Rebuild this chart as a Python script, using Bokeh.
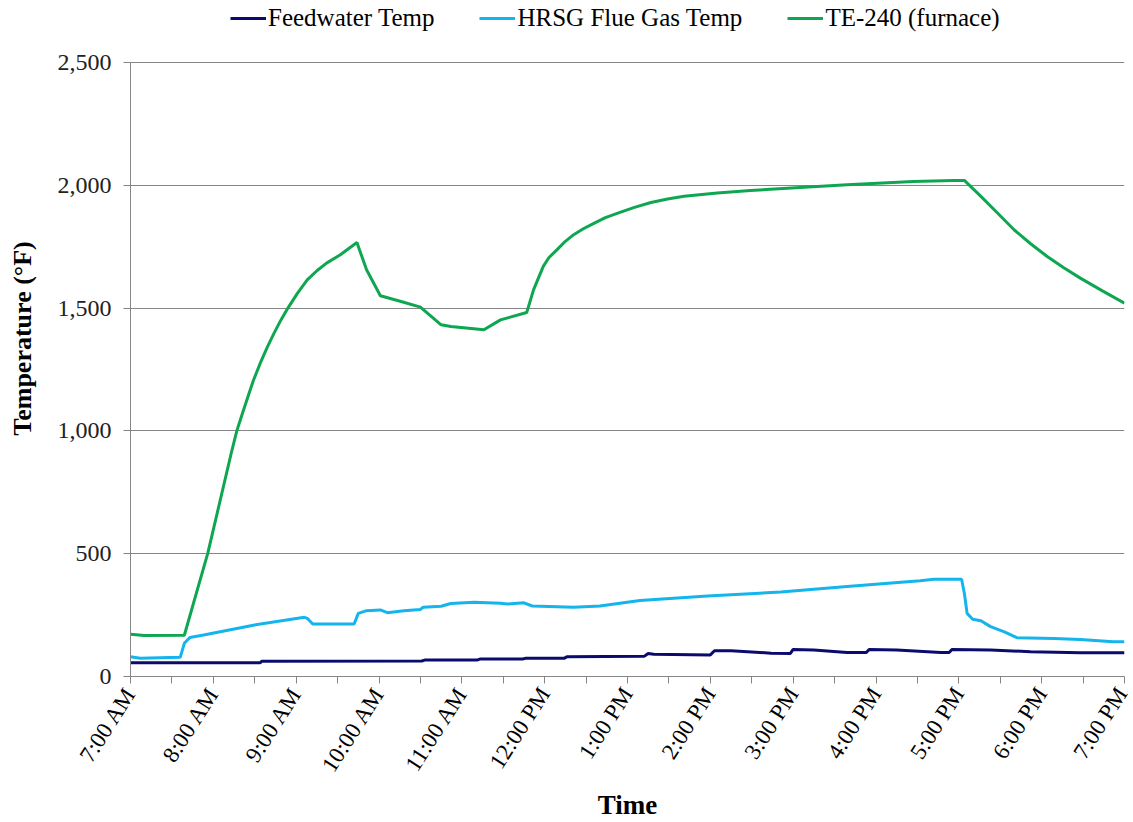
from bokeh.plotting import figure
from bokeh.models import Range1d, FixedTicker, NumeralTickFormatter, Legend, LegendItem
from bokeh.embed import file_html
from bokeh.resources import INLINE

# ---- data ----
tick_labels = ["7:00 AM", "8:00 AM", "9:00 AM", "10:00 AM", "11:00 AM", "12:00 PM",
               "1:00 PM", "2:00 PM", "3:00 PM", "4:00 PM", "5:00 PM", "6:00 PM", "7:00 PM"]
y_ticks = [0, 500, 1000, 1500, 2000, 2500]

feed_time = ["07:00", "08:34", "08:35", "10:31", "10:33", "11:11", "11:13", "11:44", "11:46",
             "12:14", "12:16", "13:12", "13:15", "13:19", "14:00", "14:03", "14:15", "14:44",
             "14:58", "15:00", "15:15", "15:39", "15:53", "15:55", "16:15", "16:47", "16:53",
             "16:55", "17:23", "17:52", "18:28", "19:00"]
feed_temp = [56, 56, 62, 63, 67, 67, 71, 71, 74,
             74, 80, 82, 94, 91, 88, 105, 105, 95,
             94, 110, 108, 98, 98, 110, 108, 98, 98,
             110, 108, 101, 97, 97]

hrsg_time = ["07:00", "07:07", "07:36", "07:39", "07:43", "07:53", "08:29", "09:06", "09:08",
             "09:12", "09:42", "09:45", "09:51", "10:01", "10:06", "10:18", "10:30", "10:32",
             "10:45", "10:52", "11:09", "11:28", "11:33", "11:45", "11:51", "12:21", "12:40",
             "13:09", "13:58", "14:51", "15:39", "16:32", "16:42", "17:02", "17:04", "17:06",
             "17:10", "17:16", "17:23", "17:33", "17:42", "18:09", "18:28", "18:52", "19:00"]
hrsg_temp = [80, 74, 78, 135, 159, 169, 209, 241, 237,
             214, 214, 257, 268, 271, 260, 268, 273, 282,
             286, 297, 302, 298, 295, 300, 287, 282, 287,
             309, 328, 344, 366, 390, 396, 396, 339, 257,
             233, 227, 203, 182, 158, 155, 151, 141, 141]

te240_time = ["07:00", "07:10", "07:39", "07:56", "08:13", "08:17", "08:21", "08:25", "08:29",
              "08:34", "08:39", "08:44", "08:49", "08:54", "09:01", "09:08", "09:15", "09:22",
              "09:32", "09:44", "09:51", "10:01", "10:16", "10:30", "10:45", "10:52", "11:16",
              "11:28", "11:47", "11:52", "11:59", "12:03", "12:09", "12:15", "12:21", "12:28",
              "12:36", "12:44", "12:53", "13:05", "13:17", "13:29", "13:41", "14:05", "14:29",
              "15:05", "15:39", "16:27", "16:56", "17:04", "17:16", "17:28", "17:40", "17:52",
              "18:04", "18:16", "18:28", "18:44", "19:00"]
te240_temp = [172, 167, 168, 502, 910, 1000, 1070, 1138, 1205,
              1276, 1340, 1398, 1452, 1500, 1561, 1615, 1652, 1683,
              1717, 1767, 1656, 1550, 1527, 1504, 1432, 1425, 1412,
              1452, 1482, 1575, 1670, 1705, 1738, 1772, 1799, 1823,
              1846, 1868, 1887, 1910, 1930, 1944, 1955, 1969, 1979,
              1991, 2002, 2015, 2020, 2020, 1955, 1887, 1819, 1762,
              1710, 1664, 1622, 1570, 1520]


def to_hours(ts):
    out = []
    for t in ts:
        h, m = t.split(":")
        out.append(int(h) + int(m) / 60.0)
    return out


FONT = "Liberation Serif"

# layout: the axis spans 614 px for 0..2500; the frame is extended upward to hold the legend
AXIS_PX = 614
FRAME_H = 676
y_top = y_ticks[-1] * FRAME_H / AXIS_PX

p = figure(output_backend="svg", toolbar_location=None,
           x_range=Range1d(7, 19), y_range=Range1d(0, y_top),
           frame_width=994, frame_height=FRAME_H,
           min_border_left=130, min_border_top=0, min_border_right=8, min_border_bottom=0)
p.outline_line_color = None
p.background_fill_color = "white"
p.border_fill_color = "white"

r1 = p.line(to_hours(feed_time), feed_temp, line_color="#0b0b6e", line_width=3)
r2 = p.line(to_hours(hrsg_time), hrsg_temp, line_color="#14b4ec", line_width=3)
r3 = p.line(to_hours(te240_time), te240_temp, line_color="#0fa651", line_width=3)

# x axis
hours = list(range(7, 20))
p.xaxis.ticker = FixedTicker(ticks=hours, minor_ticks=[h + 0.5 for h in range(7, 19)])
p.xaxis.major_label_overrides = {h: lab for h, lab in zip(hours, tick_labels)}
p.xaxis.major_label_orientation = 1.0
p.xaxis.major_label_text_font = FONT
p.xaxis.major_label_text_font_size = "23px"
p.xaxis.major_label_text_color = "black"
p.xaxis.major_tick_in = 0
p.xaxis.major_tick_out = 7
p.xaxis.minor_tick_in = 0
p.xaxis.minor_tick_out = 7
p.xaxis.axis_line_color = "#868686"
p.xaxis.major_tick_line_color = "#868686"
p.xaxis.minor_tick_line_color = "#868686"
p.xaxis.axis_label = "Time"
p.xaxis.axis_label_text_font = FONT
p.xaxis.axis_label_text_font_style = "bold"
p.xaxis.axis_label_text_font_size = "27px"
p.xaxis.axis_label_text_color = "black"
p.xaxis.axis_label_standoff = 4
p.xaxis.major_label_standoff = 6

# y axis
p.yaxis.ticker = FixedTicker(ticks=y_ticks)
p.yaxis.bounds = (y_ticks[0], y_ticks[-1])
p.yaxis.formatter = NumeralTickFormatter(format="0,0")
p.yaxis.major_label_text_font = FONT
p.yaxis.major_label_text_font_size = "24px"
p.yaxis.major_label_text_color = "#222222"
p.yaxis.major_tick_in = 0
p.yaxis.major_tick_out = 7
p.yaxis.minor_tick_line_color = None
p.yaxis.axis_line_color = "#868686"
p.yaxis.major_tick_line_color = "#868686"
p.yaxis.axis_label = "Temperature (\u00b0F)"
p.yaxis.axis_label_text_font = FONT
p.yaxis.axis_label_text_font_style = "bold"
p.yaxis.axis_label_text_font_size = "26px"
p.yaxis.axis_label_text_color = "black"
p.yaxis.axis_label_standoff = 18
p.yaxis.major_label_standoff = 12

p.xgrid.grid_line_color = None
p.ygrid.grid_line_color = "#868686"
p.ygrid.grid_line_width = 1

legend = Legend(items=[LegendItem(label="Feedwater Temp", renderers=[r1]),
                       LegendItem(label="HRSG Flue Gas Temp", renderers=[r2]),
                       LegendItem(label="TE-240 (furnace)", renderers=[r3])],
                orientation="horizontal", location=(100, FRAME_H - 32),
                padding=0, margin=0, spacing=45, glyph_width=36, glyph_height=24,
                label_standoff=2, border_line_color=None, background_fill_alpha=0,
                label_text_font=FONT, label_text_font_size="25px", label_text_color="black")
p.add_layout(legend)

open("out.html", "w").write(file_html(p, INLINE))
